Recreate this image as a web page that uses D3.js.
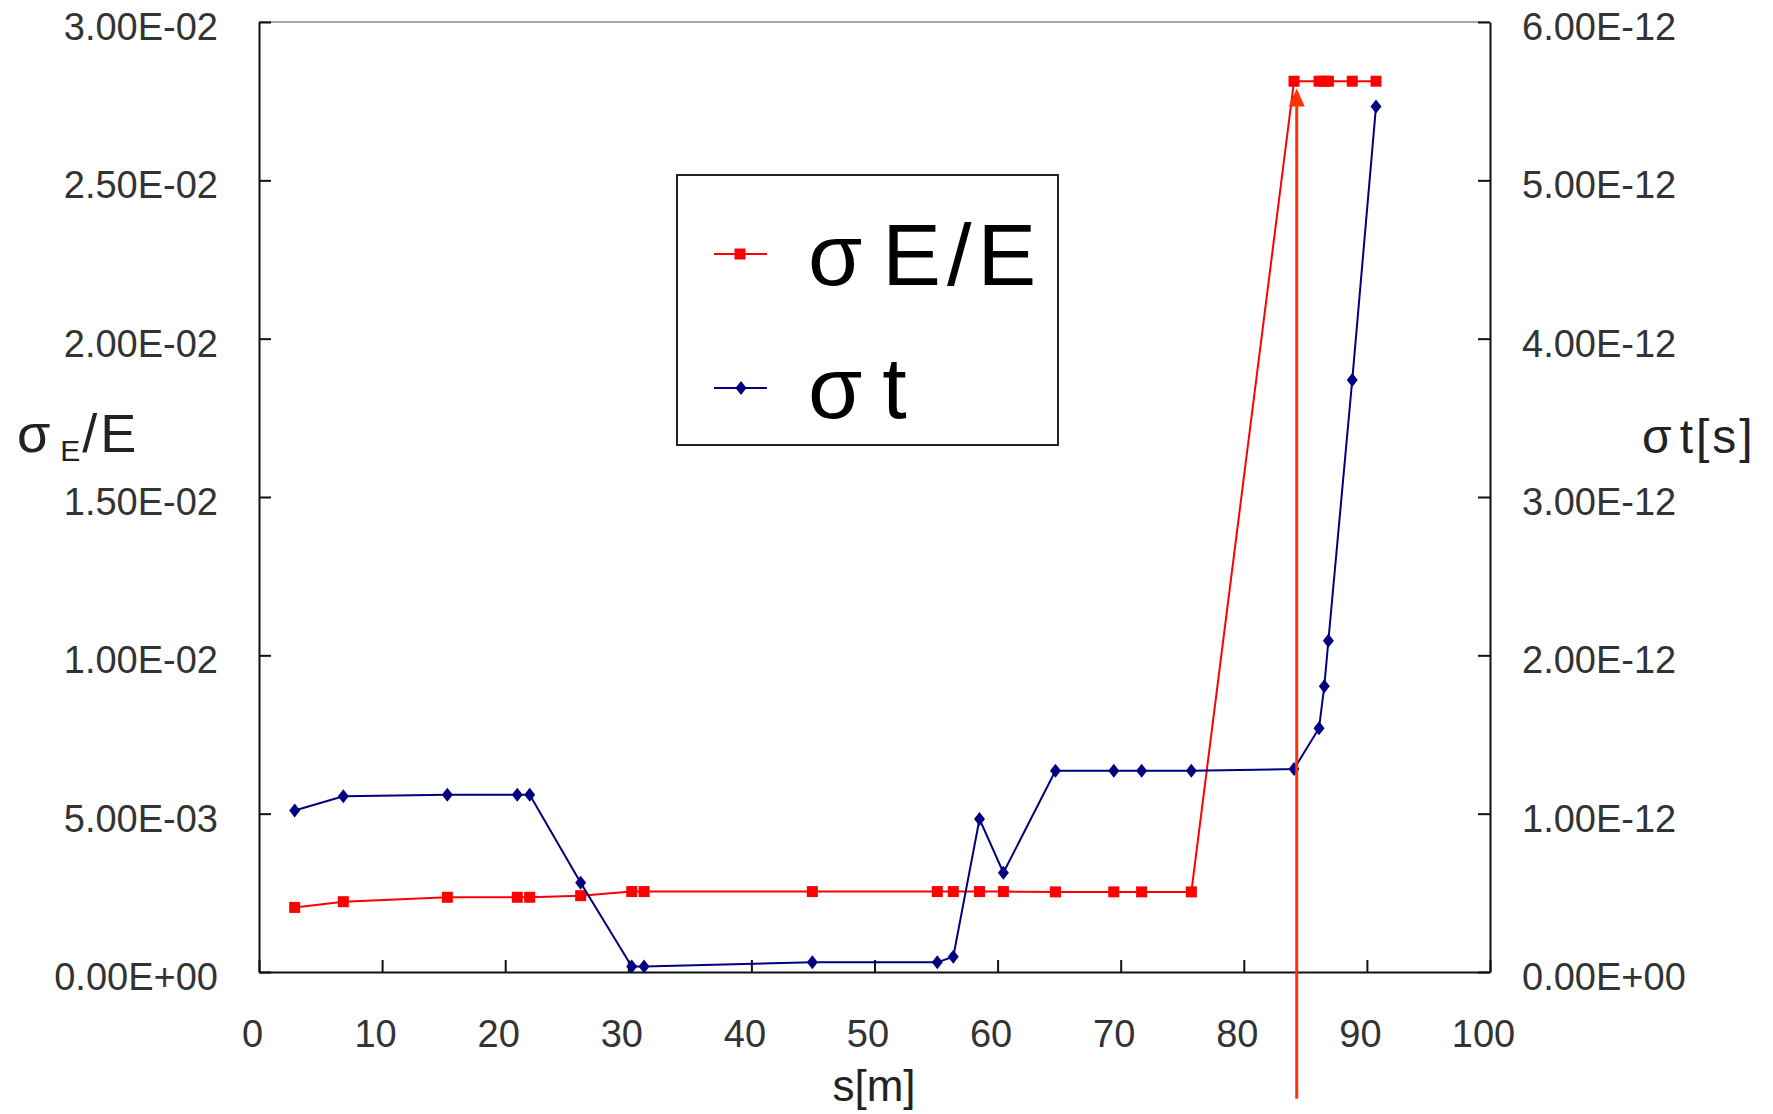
<!DOCTYPE html>
<html>
<head>
<meta charset="utf-8">
<script src="https://cdn.jsdelivr.net/npm/d3@7"></script>
<style>
  body { margin: 0; background: #fff; }
  text { font-family: "Liberation Sans", Arial, sans-serif; fill: #222; }
</style>
</head>
<body>
<div class="chart"></div>
<script>
// beam size along the line, s[m]
var sPos = [2.9, 6.85, 15.3, 20.98, 21.99, 26.13, 30.28, 31.28, 44.95, 55.1, 56.4, 58.53,
            60.47, 64.7, 69.44, 71.7, 75.74, 84.08, 86.11, 86.54, 86.87, 88.81, 90.74];

// energy spread sigmaE/E (left axis)
var sigmaE = [0.00204, 0.00222, 0.00236, 0.00236, 0.00236, 0.00241, 0.00254, 0.00254, 0.00254,
              0.00254, 0.00254, 0.00254, 0.00254, 0.00253, 0.00253, 0.00253, 0.00253,
              0.02813, 0.02813, 0.02813, 0.02813, 0.02813, 0.02813];

// bunch length sigma t [s] (right axis)
var sigmaT = [1.02e-12, 1.11e-12, 1.12e-12, 1.12e-12, 1.12e-12, 0.564e-12, 0.034e-12, 0.034e-12,
              0.061e-12, 0.061e-12, 0.097e-12, 0.966e-12, 0.627e-12, 1.271e-12, 1.271e-12,
              1.271e-12, 1.271e-12, 1.282e-12, 1.54e-12, 1.805e-12, 2.092e-12, 3.739e-12, 5.467e-12];

var xTicks = [0, 10, 20, 30, 40, 50, 60, 70, 80, 90, 100];
var leftTicks = [0, 0.005, 0.01, 0.015, 0.02, 0.025, 0.03];
var rightTicks = [0, 1e-12, 2e-12, 3e-12, 4e-12, 5e-12, 6e-12];

// red arrow marker (s position, from/to in left-axis units)
var arrowS = 84.3;
var arrowFrom = -0.004;
var arrowTo = 0.0279;

var width = 1773;
var height = 1114;
var padL = 259, padR = 1490, padT = 22, padB = 972;

var redColor = '#FF0000';
var blueColor = '#000080';
var arrowColor = '#FF3300';

var svg = d3.select(".chart")
    .append("svg")
    .attr("width", width)
    .attr("height", height);

var x = d3.scaleLinear().domain([0, 100]).range([padL, padR]);
var yL = d3.scaleLinear().domain([0, 0.03]).range([padB, padT]);
var yR = d3.scaleLinear().domain([0, 6e-12]).range([padB, padT]);

function fmtE(v) {
    var p = v.toExponential(2).split("e");
    var e = parseInt(p[1], 10);
    var sign = e < 0 ? "-" : "+";
    e = Math.abs(e);
    return p[0] + "E" + sign + (e < 10 ? "0" + e : e);
}

// top border of plot area
svg.append("line")
    .attr("x1", padL).attr("x2", padR)
    .attr("y1", padT).attr("y2", padT)
    .style("stroke", "#a8a8a8")
    .style("stroke-width", 2);

var axisFont = 38;

var gx = svg.append("g")
    .attr("transform", "translate(0," + padB + ")")
    .call(d3.axisBottom(x).tickValues(xTicks).tickSizeInner(-12).tickSizeOuter(0).tickFormat(d3.format("d")));
gx.selectAll("text")
    .attr("y", 75).attr("dy", null).attr("dx", -7)
    .style("font-size", axisFont + "px");

var gl = svg.append("g")
    .attr("transform", "translate(" + padL + ",0)")
    .call(d3.axisLeft(yL).tickValues(leftTicks).tickSizeInner(-12).tickSizeOuter(0).tickPadding(41).tickFormat(fmtE));
gl.selectAll("text")
    .attr("dy", 17.5)
    .style("font-size", axisFont + "px");

var gr = svg.append("g")
    .attr("transform", "translate(" + padR + ",0)")
    .call(d3.axisRight(yR).tickValues(rightTicks).tickSizeInner(-12).tickSizeOuter(0).tickPadding(32).tickFormat(fmtE));
gr.selectAll("text")
    .attr("dy", 17.5)
    .style("font-size", axisFont + "px");

svg.selectAll(".domain, .tick line")
    .style("stroke", "#111")
    .style("stroke-width", 2);
svg.selectAll(".tick text").style("fill", "#333").attr("font-family", null);

// axis titles
svg.append("text")
    .attr("x", 874).attr("y", 1101)
    .attr("text-anchor", "middle")
    .style("font-size", "44px")
    .text("s[m]");

var lt = svg.append("text")
    .attr("x", 17).attr("y", 452)
    .style("font-size", "54px");
lt.append("tspan").text("σ");
lt.append("tspan").attr("dx", 10).attr("dy", 9).style("font-size", "30px").text("E");
lt.append("tspan").attr("dx", 2).attr("dy", -9).style("letter-spacing", "3px").text("/E");

var rt = svg.append("text")
    .attr("x", 1642).attr("y", 453)
    .style("font-size", "48px");
rt.append("tspan").text("σ");
rt.append("tspan").attr("dx", 8).style("letter-spacing", "3px").text("t[s]");

// series
var ptsE = sPos.map(function (s, i) { return [s, sigmaE[i]]; });
var ptsT = sPos.map(function (s, i) { return [s, sigmaT[i]]; });

var lineE = d3.line().x(function (d) { return x(d[0]); }).y(function (d) { return yL(d[1]); });
var lineT = d3.line().x(function (d) { return x(d[0]); }).y(function (d) { return yR(d[1]); });

svg.append("path")
    .datum(ptsE)
    .attr("d", lineE)
    .style("fill", "none")
    .style("stroke", redColor)
    .style("stroke-width", 2);

svg.selectAll(".sq")
    .data(ptsE)
    .enter()
    .append("rect")
    .attr("class", "sq")
    .attr("x", function (d) { return x(d[0]) - 5.5; })
    .attr("y", function (d) { return yL(d[1]) - 5.5; })
    .attr("width", 11)
    .attr("height", 11)
    .style("fill", redColor);

svg.append("path")
    .datum(ptsT)
    .attr("d", lineT)
    .style("fill", "none")
    .style("stroke", blueColor)
    .style("stroke-width", 2);

var diamond = "M0,-7L5.5,0L0,7L-5.5,0Z";

svg.selectAll(".dm")
    .data(ptsT)
    .enter()
    .append("path")
    .attr("class", "dm")
    .attr("d", diamond)
    .attr("transform", function (d) { return "translate(" + x(d[0]) + "," + yR(d[1]) + ")"; })
    .style("fill", blueColor);

// arrow
var ax = x(arrowS);
var ay0 = yL(arrowFrom);
var ay1 = yL(arrowTo);
svg.append("line")
    .attr("x1", ax).attr("x2", ax)
    .attr("y1", ay0).attr("y2", ay1 + 14)
    .style("stroke", arrowColor)
    .style("stroke-width", 3);
svg.append("path")
    .attr("d", "M" + ax + "," + ay1 + "L" + (ax + 8) + "," + (ay1 + 18) + "L" + (ax - 8) + "," + (ay1 + 18) + "Z")
    .style("fill", arrowColor);

// legend
var lg = svg.append("g");
lg.append("rect")
    .attr("x", 677).attr("y", 175)
    .attr("width", 381).attr("height", 270)
    .style("fill", "#fff")
    .style("stroke", "#222")
    .style("stroke-width", 2);

lg.append("line")
    .attr("x1", 714).attr("x2", 767).attr("y1", 254).attr("y2", 254)
    .style("stroke", redColor).style("stroke-width", 2);
lg.append("rect")
    .attr("x", 734.5).attr("y", 248.5).attr("width", 11).attr("height", 11)
    .style("fill", redColor);

lg.append("line")
    .attr("x1", 714).attr("x2", 767).attr("y1", 388).attr("y2", 388)
    .style("stroke", blueColor).style("stroke-width", 2);
lg.append("path")
    .attr("d", diamond)
    .attr("transform", "translate(741,388)")
    .style("fill", blueColor);

var l1 = lg.append("text").attr("x", 808).attr("y", 285).style("font-size", "88px").style("fill", "#000");
l1.append("tspan").text("σ");
l1.append("tspan").attr("dx", 20).style("letter-spacing", "6px").text("E/E");

var l2 = lg.append("text").attr("x", 808).attr("y", 418).style("font-size", "88px").style("fill", "#000");
l2.append("tspan").text("σ");
l2.append("tspan").attr("dx", 20).text("t");
</script>
</body>
</html>
